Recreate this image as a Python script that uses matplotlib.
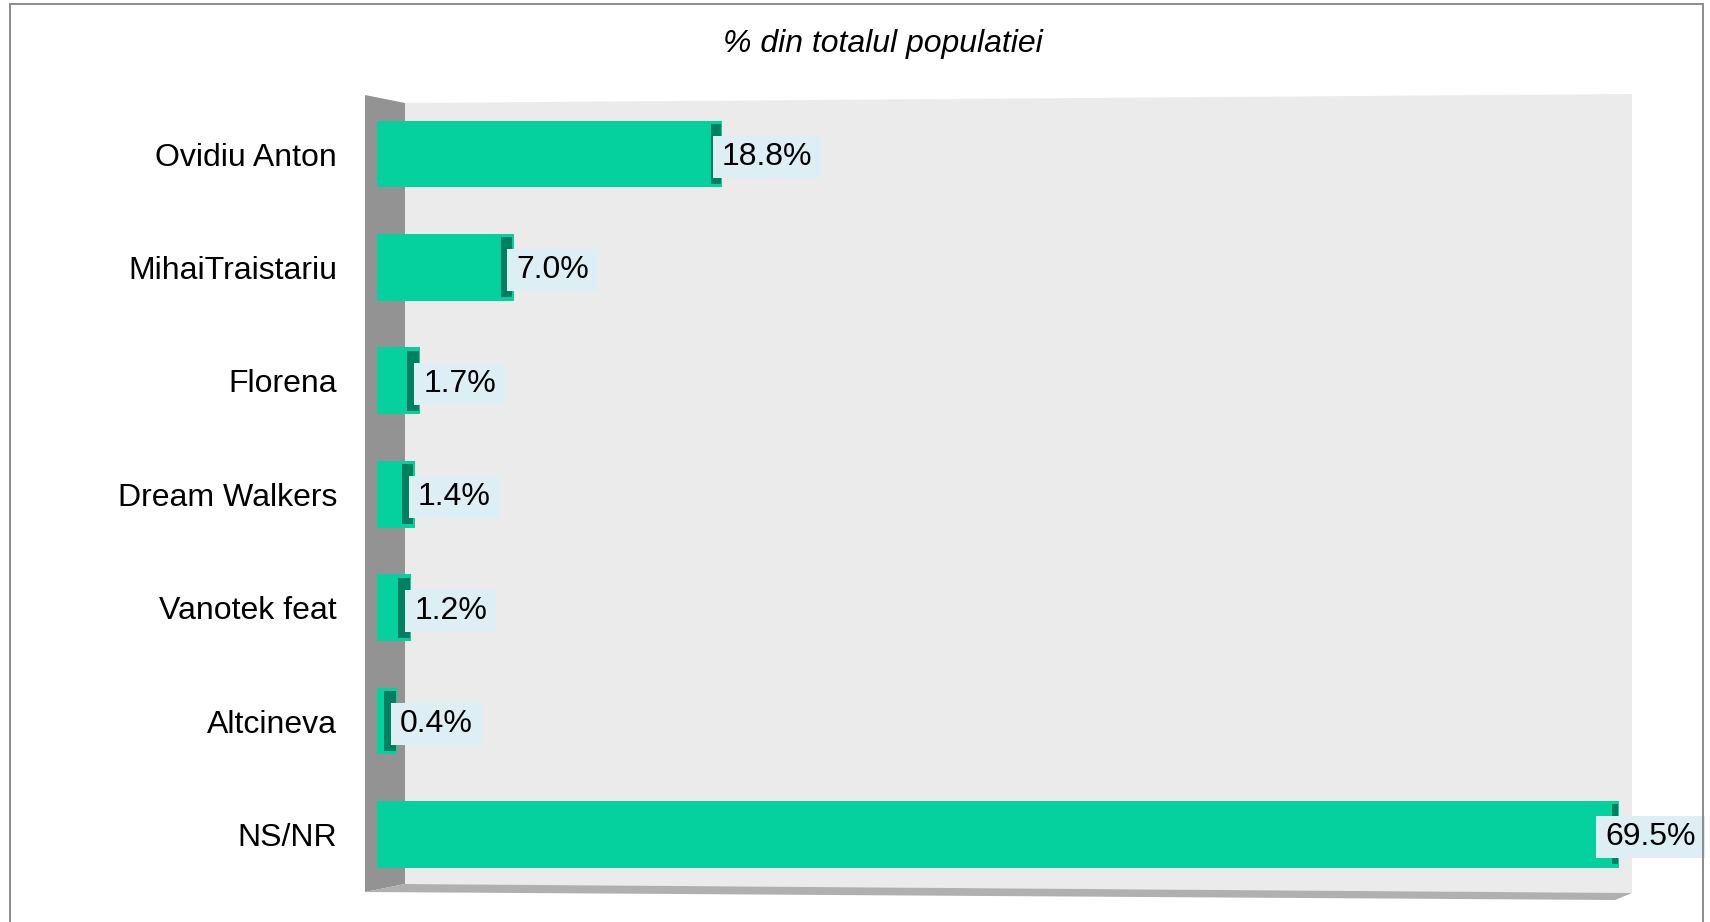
import matplotlib
matplotlib.use("Agg")
import matplotlib.pyplot as plt
from matplotlib.patches import Polygon
from matplotlib.lines import Line2D
from matplotlib.path import Path

# ---- data ----
categories = ["Ovidiu Anton", "MihaiTraistariu", "Florena", "Dream Walkers",
              "Vanotek feat", "Altcineva", "NS/NR"]
values = [18.8, 7.0, 1.7, 1.4, 1.2, 0.4, 69.5]
value_labels = ["18.8%", "7.0%", "1.7%", "1.4%", "1.2%", "0.4%", "69.5%"]
title = "% din totalul populatiei"

# ---- style ----
W, H = 1710, 922
DPI = 100
plt.rcParams['font.family'] = ['Liberation Sans', 'DejaVu Sans']

GREEN = "#05D19E"
DARK = "#027F61"
BOX = "#DDEEF4"
BACK = "#EBEBEB"
SIDE = "#939393"
FLOOR = "#B0B0B0"
BORDER = "#8E8E8E"
FS = 23

fig = plt.figure(figsize=(W / DPI, H / DPI), dpi=DPI)

def fx(px):
    return px / W

def fy(py):
    return 1 - py / H

# decorative 3D walls (figure coordinates)
side = Polygon([(fx(365), fy(95)), (fx(405), fy(103)), (fx(405), fy(884)), (fx(365), fy(892))],
               closed=True, transform=fig.transFigure, facecolor=SIDE, edgecolor='none', zorder=-5)
back = Polygon([(fx(405), fy(103)), (fx(1632), fy(94)), (fx(1632), fy(893)), (fx(405), fy(884))],
               closed=True, transform=fig.transFigure, facecolor=BACK, edgecolor='none', zorder=-6)
floor = Polygon([(fx(365), fy(892)), (fx(405), fy(884)), (fx(1632), fy(893)), (fx(1615), fy(900))],
                closed=True, transform=fig.transFigure, facecolor=FLOOR, edgecolor='none', zorder=-5)
for p in (side, back, floor):
    fig.patches.append(p)

# axes
PX_PER_UNIT = 17.77
ax_left, ax_right = 377, 1632
ax_top, ax_bottom = 97.3, 891.1
ax = fig.add_axes([fx(ax_left), fy(ax_bottom), (ax_right - ax_left) / W, (ax_bottom - ax_top) / H])
ax.set_facecolor('none')
ax.set_xlim(0, (ax_right - ax_left) / PX_PER_UNIT)
ax.set_ylim(len(categories) - 0.5, -0.5)
for s in ax.spines.values():
    s.set_visible(False)
ax.set_xticks([])
ax.set_yticks(range(len(categories)))
ax.set_yticklabels(categories, fontsize=FS, color='black')
ax.tick_params(axis='y', length=0, pad=40 * 72 / DPI)

ys = list(range(len(categories)))
bar_h = 0.59
cap = [(13 - 6 * (v / max(values))) / PX_PER_UNIT for v in values]
edge = 1.5 / PX_PER_UNIT
ax.barh(ys, [v + c for v, c in zip(values, cap)], left=0, height=bar_h, color=GREEN, zorder=2)
ax.barh(ys, [c - edge for c in cap], left=values, height=bar_h - 0.06, color=DARK, zorder=3)


def label_box(x0, y0, width, height, mutation_size):
    px = 0.29 * mutation_size
    py = 0.19 * mutation_size
    verts = [(x0 - px, y0 - py), (x0 + width + px, y0 - py),
             (x0 + width + px, y0 + height + py), (x0 - px, y0 + height + py),
             (x0 - px, y0 - py)]
    return Path(verts, closed=True)


dx_px = [11, 15, 16, 16, 16, 16, -7]
for y, v, lab, d in zip(ys, values, value_labels, dx_px):
    ax.annotate(lab, xy=(v, y), xytext=(d * 72 / DPI, -3 * 72 / DPI), textcoords='offset points',
                ha='left', va='center', fontsize=FS, color='black', zorder=5,
                bbox=dict(boxstyle=label_box, facecolor=BOX, edgecolor='none'),
                annotation_clip=False)

fig.text(fx(883), fy(44), title, ha='center', va='center', fontsize=FS, style='italic')

# outer border
fig.lines.append(Line2D([fx(10), fx(10)], [fy(922), fy(4)], transform=fig.transFigure,
                        color=BORDER, lw=2 * 72 / DPI, zorder=10))
fig.lines.append(Line2D([fx(10), fx(1703)], [fy(4), fy(4)], transform=fig.transFigure,
                        color=BORDER, lw=2 * 72 / DPI, zorder=10))
fig.lines.append(Line2D([fx(1703), fx(1703)], [fy(4), fy(922)], transform=fig.transFigure,
                        color=BORDER, lw=2 * 72 / DPI, zorder=10))

fig.savefig("out.png", dpi=DPI)
